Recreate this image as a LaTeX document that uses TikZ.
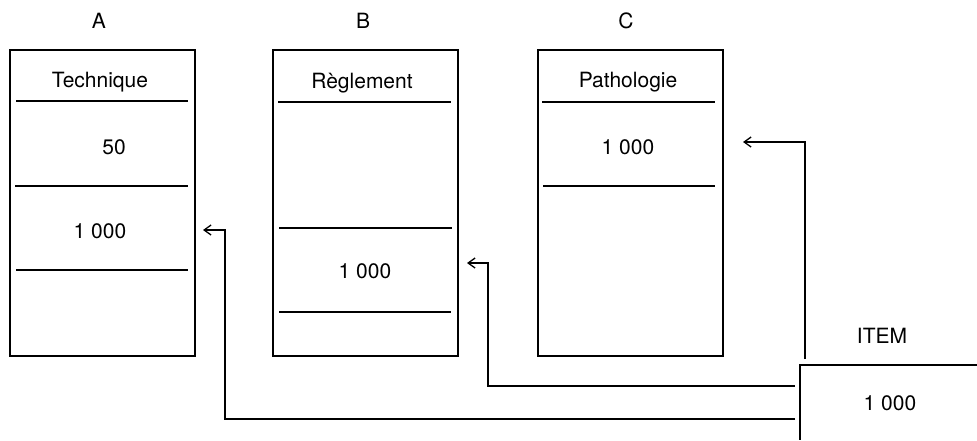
\documentclass[tikz,border=0pt]{standalone}
\usepackage{fontspec}
\setmainfont{TeX Gyre Heros}
\usetikzlibrary{arrows.meta}
\begin{document}
\begin{tikzpicture}[x=1pt,y=-1pt,
  every node/.style={font=\fontsize{21}{25}\selectfont, inner sep=0pt, anchor=base},
  frame/.style={draw, line width=1.7pt, minimum width=185pt, minimum height=306pt, anchor=north west},
  rule/.style={line width=1.2pt},
  link/.style={line width=1.1pt},
  tip/.style={-{Straight Barb[length=7pt,width=10pt,line width=1.3pt]}}
]
\useasboundingbox (0,0) rectangle (977,440);

% Three record boxes
\node[frame] (boxA) at (9,49) {};
\node[frame] (boxB) at (272,49) {};
\node[frame] (boxC) at (537,49) {};

% Column letters
\node (labA) at (99,28) {A};
\node (labB) at (363,28) {B};
\node (labC) at (626,28) {C};

% Box A contents
\node (titA) at (100,87) {Technique};
\draw[rule] (16,101) -- (188,101);
\node (valA1) at (114,154) {50};
\draw[rule] (15,186) -- (188,186);
\node (valA2) at (100,238) {1 000};
\draw[rule] (16,270) -- (188,270);

% Box B contents
\node (titB) at (362,88) {Règlement};
\draw[rule] (278,102) -- (451,102);
\draw[rule] (279,228) -- (452,228);
\node (valB) at (365,278) {1 000};
\draw[rule] (279,312) -- (451,312);

% Box C contents
\node (titC) at (628,87) {Pathologie};
\draw[rule] (542,102) -- (715,102);
\node (valC) at (628,154) {1 000};
\draw[rule] (543,186) -- (715,186);

% ITEM record
\node (item) at (882,343) {ITEM};
\node (itemval) at (890,410) {1 000};
\coordinate (itemNW) at (800,365);
\draw[line width=1.5pt] (977,365) -- (itemNW) -- (800,440);

% Connector end points
\coordinate (inA) at (203,230);
\coordinate (inB) at (467,263);
\coordinate (inC) at (743,142);
\coordinate (srcA) at (795,419);
\coordinate (srcB) at (795,386);
\coordinate (srcC) at (805,359);

% Connectors from ITEM to each box
\draw[link,tip] (srcC) |- (inC);
\draw[link,tip] (srcB) -| (488,265) -- (488,263) -- (inB);
\draw[link,tip] (srcA) -| (225,231) -- (225,230) -- (inA);
\end{tikzpicture}
\end{document}
